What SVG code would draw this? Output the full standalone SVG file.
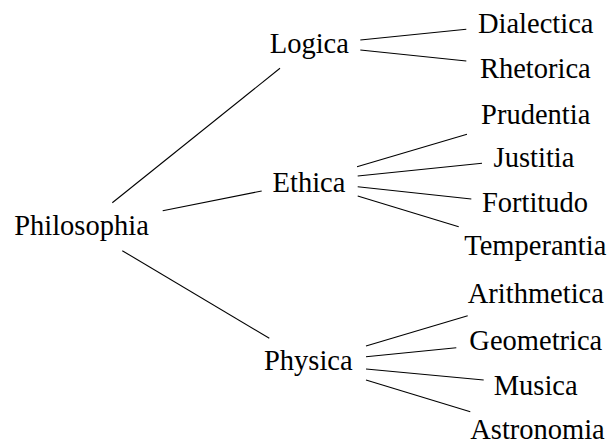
<svg xmlns="http://www.w3.org/2000/svg" width="614" height="441" viewBox="0 0 614 441">
<style>
text{font-size:28.5px;fill:#000;text-anchor:middle}
line{stroke:#000;stroke-width:1.1}
</style>
<rect width="614" height="441" fill="#fff"/>
<g id="connectors">
<line x1="112.3" y1="202.7" x2="280" y2="68.3"/>
<line x1="162.7" y1="210.7" x2="261.7" y2="191"/>
<line x1="122.3" y1="250.7" x2="269.3" y2="338.3"/>
<line x1="360.3" y1="40" x2="466.3" y2="29.3"/>
<line x1="360.3" y1="50" x2="466.3" y2="61"/>
<line x1="357" y1="166.7" x2="467" y2="134.3"/>
<line x1="357.7" y1="176" x2="482" y2="163.3"/>
<line x1="357.7" y1="186.7" x2="471.3" y2="199"/>
<line x1="357.7" y1="196" x2="458.7" y2="226.7"/>
<line x1="366" y1="346" x2="467.7" y2="315.7"/>
<line x1="366" y1="356.7" x2="456.3" y2="347.7"/>
<line x1="366" y1="369" x2="483.7" y2="380"/>
<line x1="366" y1="380" x2="470.3" y2="411.7"/>
</g>
<g id="philosophia"><text x="81.5" y="234.5" style="font-family:serif">Philosophia</text></g>
<g id="logica"><text x="309.3" y="52.5" style="font-family:serif">Logica</text></g>
<g id="ethica"><text x="309" y="191.5" style="font-family:serif">Ethica</text></g>
<g id="physica"><text x="308.3" y="370" style="font-family:serif">Physica</text></g>
<g id="dialectica"><text x="535.7" y="33" style="font-family:serif">Dialectica</text></g>
<g id="rhetorica"><text x="535.3" y="77.5" style="font-family:serif">Rhetorica</text></g>
<g id="prudentia"><text x="535.7" y="124" style="font-family:serif">Prudentia</text></g>
<g id="justitia"><text x="534" y="166.5" style="font-family:serif">Justitia</text></g>
<g id="fortitudo"><text x="535" y="211.5" style="font-family:serif">Fortitudo</text></g>
<g id="temperantia"><text x="535.3" y="255" style="font-family:serif">Temperantia</text></g>
<g id="arithmetica"><text x="535.8" y="303.3" style="font-family:serif">Arithmetica</text></g>
<g id="geometrica"><text x="535.8" y="350" style="font-family:serif">Geometrica</text></g>
<g id="musica"><text x="535.7" y="395" style="font-family:serif">Musica</text></g>
<g id="astronomia"><text x="537.5" y="438.5" style="font-family:serif">Astronomia</text></g>
</svg>
